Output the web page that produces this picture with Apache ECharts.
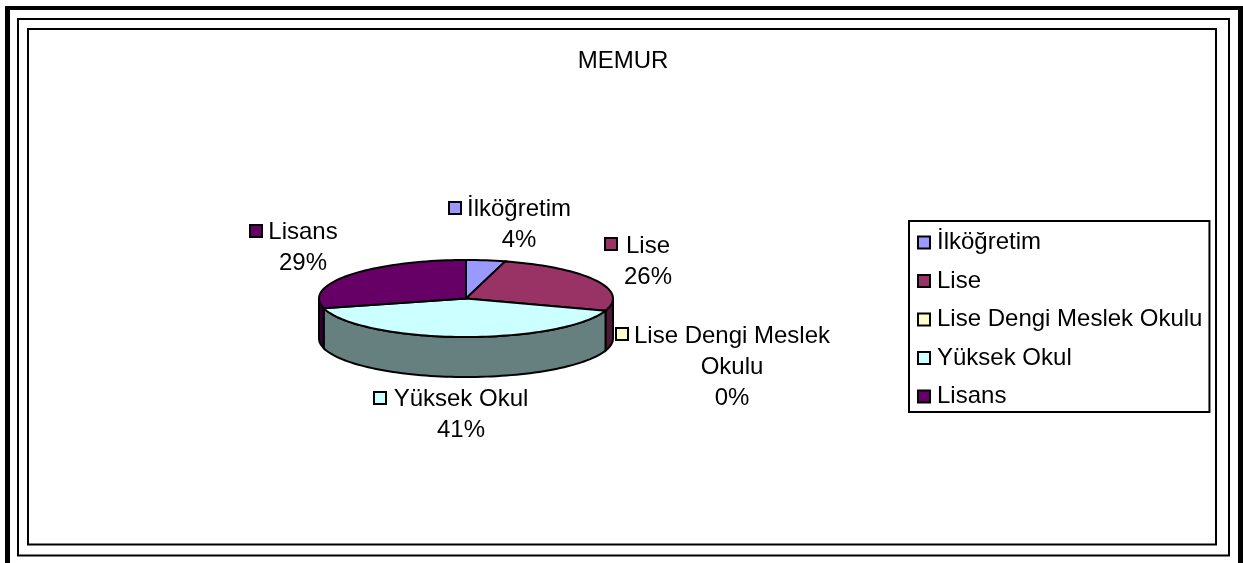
<!DOCTYPE html>
<html lang="en">
  <head>
    <meta charset="UTF-8" />
    <title>MEMUR</title>
    <script src="https://cdn.jsdelivr.net/npm/echarts@6/dist/echarts.min.js"></script>
    <style>
      html, body { margin: 0; padding: 0; background: #fff; overflow: hidden; }
      #main { width: 1243px; height: 563px; }
    </style>
  </head>
  <body>
    <div id="main"></div>
    <script type="text/javascript">
      var titleText = "MEMUR";
      var categories = ["İlköğretim", "Lise", "Lise Dengi Meslek Okulu", "Yüksek Okul", "Lisans"];
      var counts = [4, 24, 0, 38, 27];
      var topColors = ["#9999FF", "#993366", "#FFFFCC", "#CCFFFF", "#660066"];
      var sideColors = ["#4D4D80", "#4D1A33", "#808066", "#668080", "#330033"];

      // 3d pie is drawn by hand, echarts pie can't do an ellipse
      var pie = { cx: 466, cy: 298.5, rx: 147, ry: 38.5, depth: 40 };
      var labelPos = [
        { x: 519, y: 194, mx: 448, my: 201 },
        { x: 648, y: 231, mx: 604, my: 237 },
        { x: 732, y: 321, mx: 615, my: 327 },
        { x: 461, y: 384, mx: 373, my: 391 },
        { x: 303, y: 217, mx: 249, my: 224 },
      ];

      var total = counts.reduce(function (a, b) { return a + b; }, 0);

      function pointAt(frac, dy) {
        var t = frac * 2 * Math.PI;
        return [pie.cx + pie.rx * Math.sin(t), pie.cy - pie.ry * Math.cos(t) + dy];
      }

      function arcPoints(from, to, dy) {
        var pts = [];
        var steps = Math.max(2, Math.ceil((to - from) * 180));
        for (var i = 0; i <= steps; i++) {
          pts.push(pointAt(from + ((to - from) * i) / steps, dy));
        }
        return pts;
      }

      function renderSlice(idx) {
        return function (params, api) {
          var start = api.value(0) / total;
          var end = (api.value(0) + api.value(1)) / total;
          var children = [];
          // rim only shows on the front half, between 3 and 9 o'clock
          var sideFrom = Math.max(start, 0.25);
          var sideTo = Math.min(end, 0.75);
          if (sideTo > sideFrom) {
            var top = arcPoints(sideFrom, sideTo, 0);
            var bottom = arcPoints(sideFrom, sideTo, pie.depth).reverse();
            children.push({
              type: "polygon",
              shape: { points: top.concat(bottom) },
              style: { fill: sideColors[idx], stroke: "#000", lineWidth: 2 },
            });
          }
          if (end > start) {
            var wedge = [[pie.cx, pie.cy]].concat(arcPoints(start, end, 0));
            children.push({
              type: "polygon",
              shape: { points: wedge },
              style: { fill: topColors[idx], stroke: "#000", lineWidth: 2 },
            });
          }
          var pos = labelPos[idx];
          var name = categories[idx] == "Lise Dengi Meslek Okulu" ? "Lise Dengi Meslek\nOkulu" : categories[idx];
          children.push({
            type: "rect",
            shape: { x: pos.mx + 1, y: pos.my + 1, width: 12, height: 12 },
            style: { fill: topColors[idx], stroke: "#000", lineWidth: 2 },
          });
          children.push({
            type: "text",
            style: {
              text: name + "\n" + Math.round((api.value(1) / total) * 100) + "%",
              x: pos.x,
              y: pos.y,
              align: "center",
              verticalAlign: "top",
              lineHeight: 31,
              fill: "#000",
              font: '24px "Liberation Sans"',
            },
          });
          return { type: "group", children: children };
        };
      }

      var running = 0;
      var series = categories.map(function (name, i) {
        var item = [running, counts[i]];
        running += counts[i];
        return {
          type: "custom",
          name: name,
          coordinateSystem: "none",
          silent: true,
          itemStyle: { color: topColors[i] },
          data: [item],
          renderItem: renderSlice(i),
        };
      });

      function frameRect(x0, y0, x1, y1, w) {
        return {
          type: "rect",
          shape: { x: x0, y: y0, width: x1 - x0, height: y1 - y0 },
          style: { fill: "none", stroke: "#000", lineWidth: w },
        };
      }

      function frameLine(x0, y0, x1, y1, w) {
        return {
          type: "line",
          shape: { x1: x0, y1: y0, x2: x1, y2: y1 },
          style: { stroke: "#000", lineWidth: w },
        };
      }

      var myChart = echarts.init(document.getElementById("main"), null, { renderer: "canvas" });
      var option = {
        animation: false,
        backgroundColor: "#fff",
        title: {
          text: titleText,
          left: 623,
          top: 49,
          textAlign: "center",
          padding: 0,
          textStyle: { fontFamily: "Liberation Sans", fontSize: 24, fontWeight: "normal", color: "#000" },
        },
        legend: {
          orient: "vertical",
          left: 909,
          top: 221,
          padding: [9.5, 7, 3.5, 8],
          itemGap: 14.5,
          itemWidth: 12,
          itemHeight: 12,
          borderColor: "#000",
          borderWidth: 2,
          icon: "rect",
          selectedMode: false,
          itemStyle: { borderColor: "#000", borderWidth: 2 },
          textStyle: { fontFamily: "Liberation Sans", fontSize: 24, color: "#000", padding: [0, 0, 0, 2] },
          data: categories,
        },
        graphic: [
          frameLine(7.5, 563, 7.5, 6, 5),
          frameLine(5, 8, 1243, 8, 4),
          frameLine(1240.5, 6, 1240.5, 563, 5),
          frameRect(18, 19, 1229, 555.5, 2),
          frameRect(28, 29, 1216, 544.5, 2),
        ],
        series: series,
      };
      myChart.setOption(option);
    </script>
  </body>
</html>
